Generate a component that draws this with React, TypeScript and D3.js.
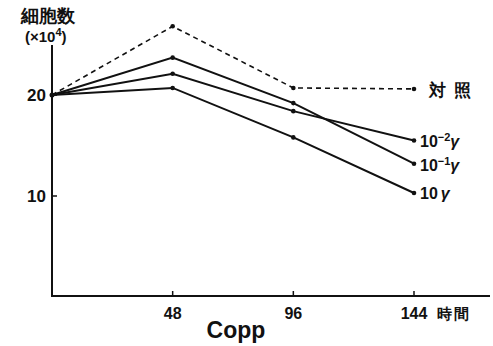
import React from "react";
import * as d3 from "d3";

// Culture time (hours) and cell counts (×10⁴) per treatment
const hours = [0, 48, 96, 144];
const control = [20, 26.8, 20.7, 20.6];
const dose001 = [20, 22.1, 18.4, 15.5];
const dose01 = [20, 23.7, 19.2, 13.2];
const dose10 = [20, 20.7, 15.8, 10.3];
const xTicks = [48, 96, 144];
const yTicks = [10, 20];

const W = 493;
const H = 346;
const FONT = "'Liberation Sans', Arial, sans-serif";

export default function App() {
  const x = d3.scaleLinear().domain([0, 144]).range([52, 414]);
  const y = d3.scaleLinear().domain([0, 20]).range([297, 95]);
  const line = d3
    .line<number>()
    .x((_, i) => x(hours[i]))
    .y((d) => y(d));

  const series = [
    { values: dose001, dashed: false },
    { values: dose01, dashed: false },
    { values: dose10, dashed: false },
    { values: control, dashed: true },
  ];

  const labelStyle = { fontFamily: FONT, fontWeight: 700, fontSize: 15, fill: "#111" } as const;

  return (
    <svg
      width={W}
      height={H}
      style={{ position: "absolute", left: 0, top: 0, background: "#fff" }}
    >
      {/* axes */}
      <line x1={52} x2={52} y1={45} y2={296} stroke="#111" strokeWidth={2} />
      <line x1={51} x2={490} y1={296} y2={296} stroke="#111" strokeWidth={2} />
      {yTicks.map((t) => (
        <g key={t}>
          <line x1={52} x2={57} y1={y(t)} y2={y(t)} stroke="#111" strokeWidth={1.5} />
          <text x={46} y={y(t) + 6} textAnchor="end" {...labelStyle} fontSize={17}>
            {t}
          </text>
        </g>
      ))}
      {xTicks.map((t) => (
        <g key={t}>
          <line x1={x(t)} x2={x(t)} y1={296} y2={291} stroke="#111" strokeWidth={1.5} />
          <text x={x(t)} y={319} textAnchor="middle" {...labelStyle} fontSize={16}>
            {t}
          </text>
        </g>
      ))}
      <text x={437} y={319} {...labelStyle} fontSize={15} letterSpacing={2}>
        時間
      </text>
      <text x={236} y={338} textAnchor="middle" {...labelStyle} fontSize={23}>
        Copp
      </text>

      {/* y-axis title */}
      <text x={21} y={22} {...labelStyle} fontSize={18}>
        細胞数
      </text>
      <text x={25} y={42} {...labelStyle} fontSize={15}>
        (×10<tspan dy={-6} fontSize={11}>4</tspan>
        <tspan dy={6}>)</tspan>
      </text>

      {/* series */}
      {series.map((s, k) => (
        <g key={k}>
          <path
            d={line(s.values) ?? ""}
            fill="none"
            stroke="#111"
            strokeWidth={s.dashed ? 1.6 : 2}
            strokeDasharray={s.dashed ? "5 4" : undefined}
          />
          {s.values.map((v, i) =>
            i === 0 ? null : <circle key={i} cx={x(hours[i])} cy={y(v)} r={2.3} fill="#111" />
          )}
        </g>
      ))}
      <circle cx={x(0)} cy={y(20)} r={2.5} fill="#111" />

      {/* series labels */}
      <text x={429} y={y(control[3]) + 7} {...labelStyle} fontSize={17} letterSpacing={8}>
        対照
      </text>
      <text x={420} y={y(dose001[3]) + 7} {...labelStyle} fontSize={16}>
        10<tspan dy={-6} fontSize={11}>−2</tspan>
        <tspan dy={6} fontStyle="italic">γ</tspan>
      </text>
      <text x={420} y={y(dose01[3]) + 7} {...labelStyle} fontSize={16}>
        10<tspan dy={-6} fontSize={11}>−1</tspan>
        <tspan dy={6} fontStyle="italic">γ</tspan>
      </text>
      <text x={420} y={y(dose10[3]) + 6} {...labelStyle} fontSize={16}>
        10<tspan dx={3} fontStyle="italic">γ</tspan>
      </text>
    </svg>
  );
}
